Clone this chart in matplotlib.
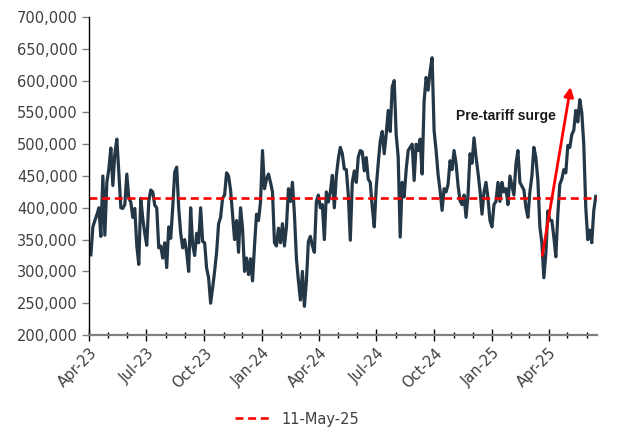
import matplotlib
matplotlib.use("Agg")
import matplotlib.pyplot as plt
import matplotlib.dates as mdates
import matplotlib.ticker as mticker
import pandas as pd

# daily series (thousands)
first_day = "2023-04-04"
last_day = "2025-06-15"
volumes_k = [
    326, 370, 380, 389, 400, 355, 450, 357, 440, 461, 494, 435, 485, 508, 456,
    400, 399, 405, 453, 415, 409, 385, 399, 340, 311, 415, 383, 360, 341, 410,
    428, 425, 404, 400, 337, 340, 321, 345, 306, 370, 352, 400, 456,
    464, 400, 360, 337, 350, 330, 300, 400, 342, 325, 360, 345, 400, 347, 345,
    305, 290, 250, 274, 300, 330, 375, 385, 415, 420, 455, 450, 428, 389, 350,
    380, 330, 400, 368, 300, 321, 295, 320, 285, 340, 390, 380, 409,
    490, 430, 445, 453, 440, 425, 345, 340, 368, 345, 375, 340, 370, 430, 410,
    440, 390, 320, 285, 255, 300, 245, 285, 347, 355, 340, 330, 410, 420, 400,
    405, 350, 425, 409, 425, 451, 400, 450, 477, 495, 485, 461,
    460, 420, 349, 440, 458, 440, 480, 490, 488, 458, 479, 445, 440, 401, 370,
    432, 470, 505, 520, 485, 516, 553, 520, 590, 600, 515, 480, 354, 440, 417,
    460, 490, 495, 500, 443, 500, 490, 508, 453, 568, 605, 585, 615, 636, 521,
    490, 452, 427, 396, 430, 425, 437, 474, 460, 490, 470, 435, 411, 405, 420,
    385, 420, 485, 470, 510, 480, 455, 427, 390, 425, 440, 415, 380, 370, 405,
    410, 440, 410, 440, 425, 430, 405, 450, 435, 420,
    469, 490, 440, 434, 428, 401, 385, 425, 450, 495, 479, 443, 370, 345, 290,
    328, 395, 380, 380, 354, 323, 390, 437, 445, 460, 455, 498, 495, 515, 522,
    553, 535, 570, 550, 500, 401, 350, 365, 345, 395, 418,
]
reference_level = 415000
reference_label = "11-May-25"

annot_text = "Pre-tariff surge"
annot_pos = ("2024-11-04", 544000)
arrow_from = ("2025-03-22", 325000)
arrow_to = ("2025-05-06", 590000)

dates = pd.date_range(first_day, last_day, periods=len(volumes_k))
values = [v * 1000 for v in volumes_k]

fig = plt.figure(figsize=(6.24, 4.43), dpi=100)
ax = fig.add_axes([89 / 624, 1 - 335 / 443, (597 - 89) / 624, (335 - 17) / 443])

ax.plot(dates, values, color="#243746", lw=2.3)
ax.axhline(reference_level, color="#ff0000", lw=1.9, ls=(0, (3, 1.8)),
           label=reference_label)

ax.annotate("", xy=(pd.Timestamp(arrow_to[0]), arrow_to[1]),
            xytext=(pd.Timestamp(arrow_from[0]), arrow_from[1]),
            arrowprops=dict(arrowstyle="-|>", color="#ff0000", lw=2,
                            mutation_scale=14, shrinkA=0, shrinkB=0))
ax.text(pd.Timestamp(annot_pos[0]), annot_pos[1], annot_text,
        family="Liberation Sans", weight="bold", fontsize=10,
        color="#1a1a1a", va="center", ha="left")

ax.set_ylim(200000, 700000)
ax.set_xlim(pd.Timestamp("2023-04-01"), pd.Timestamp("2025-06-17"))
ax.yaxis.set_major_locator(mticker.MultipleLocator(50000))
ax.yaxis.set_major_formatter(mticker.StrMethodFormatter("{x:,.0f}"))
ax.xaxis.set_major_locator(mdates.MonthLocator(bymonth=[1, 4, 7, 10]))
ax.xaxis.set_minor_locator(mdates.MonthLocator())
ax.xaxis.set_major_formatter(mdates.DateFormatter("%b-%y"))

for s in ["top", "right"]:
    ax.spines[s].set_visible(False)
ax.spines["left"].set_color("black")
ax.spines["left"].set_linewidth(1.0)
ax.spines["bottom"].set_color("#808080")
ax.spines["bottom"].set_linewidth(1.6)

ax.tick_params(axis="y", length=5, width=1, color="#808080",
               labelsize=10.5, labelcolor="#404040", pad=3)
ax.tick_params(axis="x", which="major", direction="inout", length=8,
               width=1, color="black", labelsize=10.5, labelcolor="#404040")
ax.tick_params(axis="x", which="minor", direction="inout", length=4,
               width=1, color="black")
plt.setp(ax.get_xticklabels(), rotation=45, ha="right",
         rotation_mode="anchor")

fig.legend(loc="center", bbox_to_anchor=(0.476, 0.054), frameon=False,
           fontsize=10.5, handlelength=2.4, labelcolor="#404040")

fig.savefig("out.png", dpi=100)
